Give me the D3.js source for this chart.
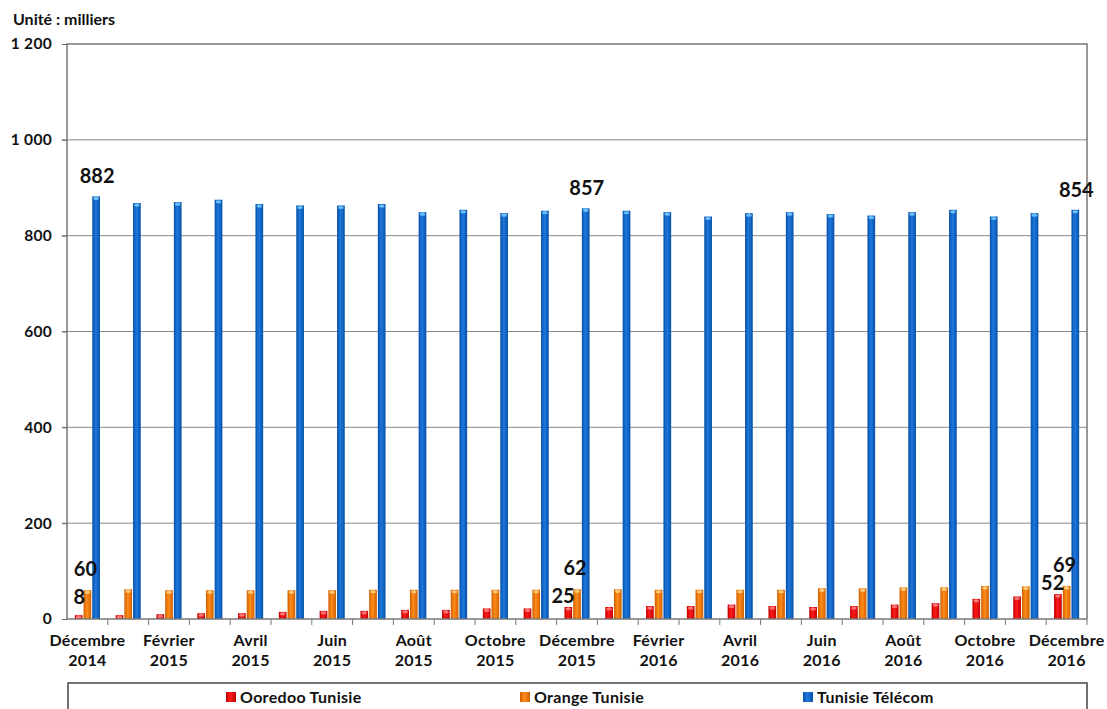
<!DOCTYPE html>
<html>
<head>
<meta charset="utf-8">
<script src="https://cdn.jsdelivr.net/npm/d3@7"></script>
<style>
  body { margin: 0; background: #fff; }
  text { font-family: Lato, "Open Sans", sans-serif; font-weight: bold; fill: #111; }
</style>
</head>
<body>
<div id="chart"></div>
<script>
// months shown on the axis (every second one gets a label)
const months = ['Décembre 2014', 'Janvier 2015', 'Février 2015', 'Mars 2015', 'Avril 2015', 'Mai 2015',
  'Juin 2015', 'Juillet 2015', 'Août 2015', 'Septembre 2015', 'Octobre 2015', 'Novembre 2015',
  'Décembre 2015', 'Janvier 2016', 'Février 2016', 'Mars 2016', 'Avril 2016', 'Mai 2016',
  'Juin 2016', 'Juillet 2016', 'Août 2016', 'Septembre 2016', 'Octobre 2016', 'Novembre 2016', 'Décembre 2016'];

const seriesNames = ['Ooredoo Tunisie', 'Orange Tunisie', 'Tunisie Télécom'];

const ooredoo = [8, 8, 10, 12, 12, 15, 17, 17, 19, 19, 22, 22, 25, 25, 27, 27, 30, 27, 25, 27, 30, 33, 42, 47, 52];
const orange = [60, 62, 60, 60, 60, 60, 60, 61, 61, 61, 61, 61, 62, 62, 61, 61, 61, 61, 64, 64, 66, 66, 69, 68, 69];
const telecom = [882, 868, 870, 875, 866, 863, 863, 866, 849, 854, 847, 852, 857, 852, 849, 840, 847, 849, 845, 842, 849, 854, 840, 847, 854];

const yTicks = [0, 200, 400, 600, 800, 1000, 1200];
const labelledMonths = [0, 12, 24];

const svgWidth = 1107;
const svgHeight = 709;
const margin = { top: 44, right: 20, bottom: 90, left: 67 };
const width = 1087 - margin.left;
const height = 619 - margin.top;

const seriesValues = [ooredoo, orange, telecom];
const colors = [
  { dark: '#c00000', mid: '#ff1a1a', light: '#ff8080' },
  { dark: '#d06000', mid: '#ff8c1a', light: '#ffd080' },
  { dark: '#0750a8', mid: '#1d78dc', light: '#70c8ff' }
];

const rows = months.map((m, i) => ({
  month: m,
  values: seriesValues.map((s, k) => ({ k: k, v: s[i], i: i }))
}));

const svg = d3.select('#chart')
  .append('svg')
  .attr('width', svgWidth)
  .attr('height', svgHeight);

// cylinder-ish gradients
const defs = svg.append('defs');
colors.forEach((c, k) => {
  const g = defs.append('linearGradient')
    .attr('id', 'grad' + k)
    .attr('x1', 0).attr('x2', 1).attr('y1', 0).attr('y2', 0);
  g.append('stop').attr('offset', '0%').attr('stop-color', c.dark);
  g.append('stop').attr('offset', '45%').attr('stop-color', c.mid);
  g.append('stop').attr('offset', '100%').attr('stop-color', c.dark);
});

const chart = svg.append('g')
  .attr('transform', `translate(${margin.left},${margin.top})`);

const x = d3.scaleBand()
  .domain(months)
  .range([0, width])
  .padding(0);

const xInner = d3.scaleBand()
  .domain([0, 1, 2])
  .range([x.bandwidth() * 0.18, x.bandwidth() * 0.82])
  .padding(0);

const y = d3.scaleLinear()
  .domain([0, 1200])
  .range([height, 0]);

const fmt = d3.formatLocale({ decimal: ',', thousands: ' ', grouping: [3], currency: ['', ''] }).format(',d');

// gridlines
chart.append('g')
  .selectAll('line')
  .data(yTicks.filter(t => t > 0 && t < 1200))
  .enter()
  .append('line')
  .attr('x1', -5)
  .attr('x2', width)
  .attr('y1', d => y(d))
  .attr('y2', d => y(d))
  .attr('stroke', '#8a8a8a')
  .attr('stroke-width', 1);

// y axis
const yAxis = chart.append('g')
  .call(d3.axisLeft(y).tickValues(yTicks).tickFormat(fmt).tickSize(5).tickPadding(10));
yAxis.select('.domain').remove();
yAxis.selectAll('line').attr('stroke', '#666');
yAxis.selectAll('text')
  .style('font-size', '15.5px')
  .style('font-family', 'Lato, sans-serif')
  .style('font-weight', 'bold')
  .style('letter-spacing', '0.3px')
  .attr('fill', '#111');

// plot border (left, top, right)
chart.append('path')
  .attr('d', `M0,${height}V0H${width}V${height}`)
  .attr('fill', 'none')
  .attr('stroke', '#777')
  .attr('stroke-width', 1.5);

// bars
const groups = chart.selectAll('.grp')
  .data(rows)
  .enter()
  .append('g')
  .attr('class', 'grp')
  .attr('transform', d => `translate(${x(d.month)},0)`);

groups.selectAll('rect.bar')
  .data(d => d.values)
  .enter()
  .append('rect')
  .attr('class', 'bar')
  .attr('x', d => xInner(d.k) + 0.5)
  .attr('width', xInner.bandwidth() - 1)
  .attr('y', d => y(d.v))
  .attr('height', d => y(0) - y(d.v))
  .attr('fill', d => `url(#grad${d.k})`);

// little light cap on top of each bar
groups.selectAll('ellipse.cap')
  .data(d => d.values)
  .enter()
  .append('ellipse')
  .attr('class', 'cap')
  .attr('cx', d => xInner(d.k) + xInner.bandwidth() / 2)
  .attr('cy', d => y(d.v) + 2)
  .attr('rx', xInner.bandwidth() / 2 - 1.5)
  .attr('ry', 1.6)
  .attr('fill', d => colors[d.k].light)
  .attr('opacity', 0.9);

// x axis
const xAxis = chart.append('g')
  .attr('transform', `translate(0,${height})`);
xAxis.append('line')
  .attr('x1', 0).attr('x2', width)
  .attr('stroke', '#777').attr('stroke-width', 1.5);
xAxis.selectAll('line.tick')
  .data(months)
  .enter()
  .append('line')
  .attr('class', 'tick')
  .attr('x1', d => x(d) + x.bandwidth())
  .attr('x2', d => x(d) + x.bandwidth())
  .attr('y1', 0).attr('y2', 6)
  .attr('stroke', '#777');

const xLabels = xAxis.selectAll('text')
  .data(months.filter((m, i) => i % 2 === 0))
  .enter()
  .append('text')
  .attr('x', d => x(d) + x.bandwidth() / 2)
  .attr('y', 27)
  .attr('text-anchor', 'middle')
  .style('font-size', '16px')
  .style('letter-spacing', '0.3px');
xLabels.append('tspan')
  .attr('x', d => x(d) + x.bandwidth() / 2)
  .text(d => d.split(' ')[0]);
xLabels.append('tspan')
  .attr('x', d => x(d) + x.bandwidth() / 2)
  .attr('dy', 20)
  .text(d => d.split(' ')[1]);

// data labels
labelledMonths.forEach(i => {
  const m = months[i];
  seriesValues.forEach((s, k) => {
    const v = s[i];
    const left = x(m) + xInner(k);
    const t = chart.append('text')
      .style('font-size', '20px')
      .text(v);
    if (k === 0) {
      t.attr('x', left + xInner.bandwidth() + 2)
        .attr('y', Math.min(y(v) - 4, y(0) - 15))
        .attr('text-anchor', 'end');
    } else {
      t.attr('x', left + xInner.bandwidth() / 2 - (k === 1 ? 2 : -1))
        .attr('y', y(v) - (k === 1 ? 14 : 13))
        .attr('text-anchor', 'middle');
    }
  });
});

// unit
svg.append('text')
  .attr('x', 13)
  .attr('y', 25)
  .style('font-size', '16px')
  .text('Unité : milliers');

// legend
const legend = svg.append('g');
legend.append('rect')
  .attr('x', 68)
  .attr('y', 683)
  .attr('width', 1019)
  .attr('height', 40)
  .attr('fill', '#fff')
  .attr('stroke', '#444')
  .attr('stroke-width', 1.5);

const legendX = [226, 520, 803];
const legendItems = legend.selectAll('.item')
  .data(seriesNames)
  .enter()
  .append('g')
  .attr('class', 'item')
  .attr('transform', (d, i) => `translate(${legendX[i]},692)`);
legendItems.append('rect')
  .attr('width', 10)
  .attr('height', 10)
  .attr('fill', (d, i) => `url(#grad${i})`);
legendItems.append('text')
  .attr('x', 14)
  .attr('y', 11)
  .style('font-size', '16px')
  .style('letter-spacing', '0.3px')
  .text(d => d);
</script>
</body>
</html>
